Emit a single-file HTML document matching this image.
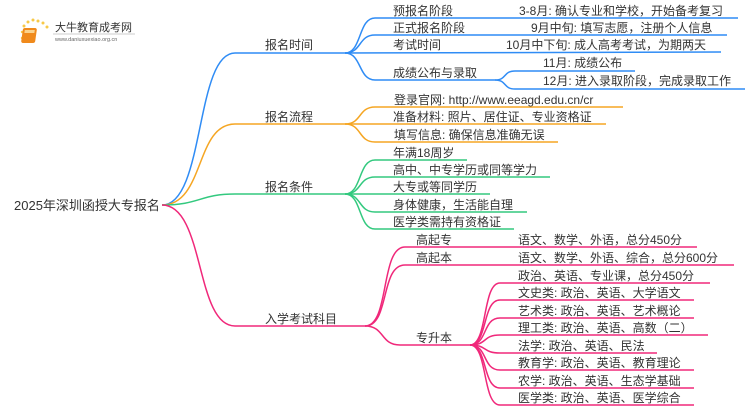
<!DOCTYPE html>
<html><head><meta charset="utf-8"><style>
body{margin:0;background:#fff}
svg{display:block}
text{font-family:"Liberation Sans","Noto Sans CJK SC",sans-serif;font-size:12px;fill:#333}
.b{stroke:#2f8cf5}.o{stroke:#f5a623}.g{stroke:#33c97f}.p{stroke:#f0287a}
path,line{fill:none;stroke-width:1.5}
</style></head><body>
<svg width="750" height="410" viewBox="0 0 750 410">
<!-- logo -->
<g>
<circle cx="24" cy="26" r="1.5" fill="#f7c948"/><circle cx="28" cy="22" r="1.5" fill="#f7c948"/><circle cx="33" cy="20" r="1.5" fill="#f7c948"/><circle cx="38" cy="21" r="1.5" fill="#f7c948"/><circle cx="43" cy="23" r="1.5" fill="#f7c948"/><circle cx="47" cy="27" r="1.5" fill="#f7c948"/><circle cx="22" cy="32" r="1.2" fill="#f7c948"/><circle cx="22" cy="38" r="1.2" fill="#f7c948"/>
<rect x="27" y="28" width="14" height="15" rx="2" fill="#f08a1c" transform="skewX(-8)"/>
<rect x="29" y="30" width="10" height="3" fill="#fbd38d" transform="skewX(-8)"/>
<text x="55" y="31" style="font-size:11px" fill="#444">大牛教育成考网</text>
<line x1="53" y1="34" x2="135" y2="34" stroke="#ddd" stroke-width="0.6"/>
<text x="55" y="41" style="font-size:5.5px;fill:#666">www.daniuxuexiao.org.cn</text>
</g>
<!-- root -->
<text x="14" y="210" style="font-size:13px">2025年深圳函授大专报名</text>
<!-- level1 -->
<path class="b" d="M162,205 C205,205 195,53 235,53 L345,53"/>
<path class="o" d="M162,205 C205,205 195,124 235,124 L345,124"/>
<path class="g" d="M162,205 C200,205 200,194 235,194 L345,194"/>
<path class="p" d="M162,205 C205,205 195,326 235,326 L365,326"/>
<text x="265" y="49">报名时间</text>
<text x="265" y="121">报名流程</text>
<text x="265" y="191">报名条件</text>
<text x="265" y="323">入学考试科目</text>
<!-- time -->
<path class="b" d="M345,53 C362,53 358,18 375,18 L738,18"/>
<path class="b" d="M345,53 C362,53 358,35 375,35 L727,35"/>
<path class="b" d="M345,53 L721,52"/>
<path class="b" d="M345,53 C362,53 358,80 375,80 L495,80"/>
<path class="b" d="M495,80 C507,80 503,71 515,71 L635,71"/>
<path class="b" d="M495,80 C507,80 503,89 515,89 L745,89"/>
<text x="393" y="15">预报名阶段</text><text x="519" y="15">3-8月: 确认专业和学校，开始备考复习</text>
<text x="393" y="32">正式报名阶段</text><text x="531" y="32">9月中旬: 填写志愿，注册个人信息</text>
<text x="393" y="49">考试时间</text><text x="506" y="49">10月中下旬: 成人高考考试，为期两天</text>
<text x="393" y="77">成绩公布与录取</text>
<text x="543" y="67">11月: 成绩公布</text><text x="543" y="85">12月: 进入录取阶段，完成录取工作</text>
<!-- process -->
<path class="o" d="M345,124 C362,124 358,107 375,107 L623,107"/>
<path class="o" d="M345,124 L606,124"/>
<path class="o" d="M345,124 C362,124 358,142 375,142 L558,142"/>
<text x="394" y="104">登录官网: http://www.eeagd.edu.cn/cr</text>
<text x="393" y="121">准备材料: 照片、居住证、专业资格证</text>
<text x="394" y="139">填写信息: 确保信息准确无误</text>
<!-- conditions -->
<path class="g" d="M345,194 C362,194 358,160 375,160 L467,160"/>
<path class="g" d="M345,194 C362,194 358,177 375,177 L550,177"/>
<path class="g" d="M345,194 L490,194"/>
<path class="g" d="M345,194 C362,194 358,212 375,212 L527,212"/>
<path class="g" d="M345,194 C362,194 358,229 375,229 L514,229"/>
<text x="393" y="157">年满18周岁</text>
<text x="393" y="174">高中、中专学历或同等学力</text>
<text x="393" y="191">大专或等同学历</text>
<text x="393" y="209">身体健康，生活能自理</text>
<text x="393" y="226">医学类需持有资格证</text>
<!-- exam -->
<path class="p" d="M365,326 C390,326 380,247 405,247 L697,247"/>
<path class="p" d="M365,326 C390,326 380,265 405,265 L734,265"/>
<path class="p" d="M365,326 C385,326 380,345 400,345 L470,345"/>
<text x="416" y="244">高起专</text><text x="518" y="244">语文、数学、外语，总分450分</text>
<text x="416" y="262">高起本</text><text x="518" y="262">语文、数学、外语、综合，总分600分</text>
<text x="416" y="342">专升本</text>
<path class="p" d="M470,345 C488,345 482,283 500,283 L710,283"/>
<path class="p" d="M470,345 C488,345 482,300 500,300 L694,300"/>
<path class="p" d="M470,345 C488,345 482,318 500,318 L694,318"/>
<path class="p" d="M470,345 C488,345 482,335 500,335 L708,335"/>
<path class="p" d="M470,345 C488,345 482,353 500,353 L657,353"/>
<path class="p" d="M470,345 C488,345 482,370 500,370 L694,370"/>
<path class="p" d="M470,345 C488,345 482,388 500,388 L694,388"/>
<path class="p" d="M470,345 C488,345 482,405 500,405 L694,405"/>
<text x="518" y="280">政治、英语、专业课，总分450分</text>
<text x="518" y="297">文史类: 政治、英语、大学语文</text>
<text x="518" y="315">艺术类: 政治、英语、艺术概论</text>
<text x="518" y="332">理工类: 政治、英语、高数（二）</text>
<text x="518" y="350">法学: 政治、英语、民法</text>
<text x="518" y="367">教育学: 政治、英语、教育理论</text>
<text x="518" y="385">农学: 政治、英语、生态学基础</text>
<text x="518" y="402">医学类: 政治、英语、医学综合</text>
</svg>
</body></html>
